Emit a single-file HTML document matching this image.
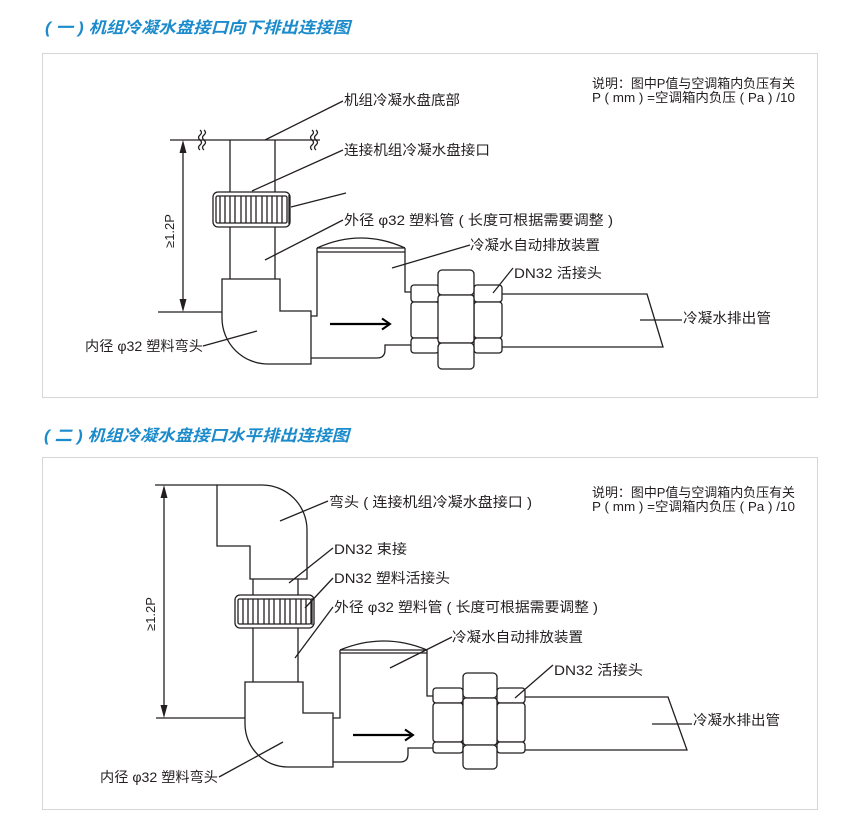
<!DOCTYPE html>
<html><head><meta charset="utf-8"><style>
html,body{margin:0;padding:0;background:#fff;}
svg{display:block;}
text{font-family:"Liberation Sans","Noto Sans CJK SC",sans-serif;fill:#231f20;}
.t{font-size:16px;font-weight:bold;font-style:italic;fill:#1b8bcb;}
.l{font-size:14px;}
.n{font-size:13px;}
.s{stroke:#231f20;stroke-width:1.3;fill:none;}
.w{stroke:#231f20;stroke-width:1.3;fill:#fff;}
</style></head><body>
<svg width="853" height="837" viewBox="0 0 853 837" xmlns="http://www.w3.org/2000/svg">
<rect x="0" y="0" width="853" height="837" fill="#fff"/>

<!-- Titles -->
<text class="t" x="45" y="33" textLength="305" lengthAdjust="spacingAndGlyphs">( 一 ) 机组冷凝水盘接口向下排出连接图</text>
<text class="t" x="44" y="441" textLength="305" lengthAdjust="spacingAndGlyphs">( 二 ) 机组冷凝水盘接口水平排出连接图</text>

<!-- Panels -->
<rect x="42.5" y="53.5" width="775" height="344" fill="none" stroke="#d6d6d6" stroke-width="1"/>
<rect x="42.5" y="457.5" width="775" height="352" fill="none" stroke="#d6d6d6" stroke-width="1"/>

<!-- ================= TOP DIAGRAM ================= -->
<text class="n" x="592" y="88" textLength="203" lengthAdjust="spacingAndGlyphs">说明：图中P值与空调箱内负压有关</text>
<text class="n" x="592" y="102" textLength="203" lengthAdjust="spacingAndGlyphs">P ( mm ) =空调箱内负压 ( Pa ) /10</text>

<!-- top line w/ break marks -->
<path class="s" d="M170 140 H320"/>
<path class="s" stroke-width="1.1" d="M200 130 q3 2.5 0 5 q-3 2.5 0 5 q3 2.5 0 5 q-3 2.5 0 5 M204 130 q3 2.5 0 5 q-3 2.5 0 5 q3 2.5 0 5 q-3 2.5 0 5"/>
<path class="s" stroke-width="1.1" d="M312 130 q3 2.5 0 5 q-3 2.5 0 5 q3 2.5 0 5 q-3 2.5 0 5 M316 130 q3 2.5 0 5 q-3 2.5 0 5 q3 2.5 0 5 q-3 2.5 0 5"/>

<!-- pipe -->
<path class="s" d="M230 140 V279 M275 140 V279"/>

<!-- knurled nut -->
<rect class="w" x="213" y="192" width="77" height="35" rx="5"/>
<rect class="s" x="216" y="196" width="71" height="27" rx="1.5"/>
<path class="s" d="M289 195 V224"/>
<path class="s" stroke-width="0.8" d="M220 196V223M225 196V223M230 196V223M235 196V223M241 196V223M246 196V223M251 196V223M256 196V223M262 196V223M267 196V223M272 196V223M277 196V223M282 196V223"/>

<!-- dimension -->
<path class="s" d="M183 150 V302"/>
<path d="M183 140 L179.5 153 L186.5 153 Z M183 312 L179.5 299 L186.5 299 Z" fill="#231f20"/>
<path class="s" d="M158 312 H222"/>
<text class="n" transform="translate(174 231) rotate(-90)" text-anchor="middle">≥1.2P</text>

<!-- elbow -->
<path class="w" d="M222 279 H280 V311 H311 V364 H268 A46 46 0 0 1 222 318 Z"/>

<!-- trap -->
<path class="s" d="M311 316 H317 V248"/>
<path class="s" d="M317 248 Q361 228 405 248"/>
<path class="s" d="M317 248 H405 M317 252 H405"/>
<path class="s" d="M405 248 V292 H411"/>
<path class="s" d="M311 358 H377 Q385 358 385 350 V345 H411"/>
<path d="M330 324 H389" stroke="#000" stroke-width="2.2" fill="none"/>
<path d="M382 318.5 L390 324 L382 329.5" stroke="#000" stroke-width="2" fill="none"/>

<!-- union nuts -->
<g class="w">
<rect x="411" y="285" width="28" height="17" rx="3"/>
<rect x="411" y="302" width="28" height="36" rx="3"/>
<rect x="411" y="338" width="28" height="15" rx="3"/>
<rect x="474" y="285" width="28" height="17" rx="3"/>
<rect x="474" y="302" width="28" height="36" rx="3"/>
<rect x="474" y="338" width="28" height="15" rx="3"/>
<rect x="438" y="270" width="36" height="25" rx="4"/>
<rect x="438" y="295" width="36" height="48" rx="3"/>
<rect x="438" y="343" width="36" height="26" rx="4"/>
</g>
<path class="s" d="M502 294 H647 L663 347 H502"/>

<!-- top leaders -->
<path class="s" stroke-width="1" d="M265 140 L343 101"/>
<path class="s" stroke-width="1" d="M252 191 L343 150"/>
<path class="s" stroke-width="1" d="M291 207 L346 193"/>
<path class="s" stroke-width="1" d="M265 260 L343 220"/>
<path class="s" stroke-width="1" d="M392 268 L470 245"/>
<path class="s" stroke-width="1" d="M493 293 L513 268"/>
<path class="s" stroke-width="1" d="M640 320 H682"/>
<path class="s" stroke-width="1" d="M203 346 L257 331"/>

<!-- top labels -->
<text class="l" x="344" y="105" textLength="116" lengthAdjust="spacingAndGlyphs">机组冷凝水盘底部</text>
<text class="l" x="344" y="155" textLength="146" lengthAdjust="spacingAndGlyphs">连接机组冷凝水盘接口</text>
<text class="l" x="344" y="225" textLength="269" lengthAdjust="spacingAndGlyphs">外径 φ32 塑料管 ( 长度可根据需要调整 )</text>
<text class="l" x="470" y="250" textLength="130" lengthAdjust="spacingAndGlyphs">冷凝水自动排放装置</text>
<text class="l" x="514" y="278" textLength="88" lengthAdjust="spacingAndGlyphs">DN32 活接头</text>
<text class="l" x="683" y="323" textLength="88" lengthAdjust="spacingAndGlyphs">冷凝水排出管</text>
<text class="l" x="85" y="351" textLength="118" lengthAdjust="spacingAndGlyphs">内径 φ32 塑料弯头</text>

<!-- ================= BOTTOM DIAGRAM ================= -->
<text class="n" x="592" y="497" textLength="203" lengthAdjust="spacingAndGlyphs">说明：图中P值与空调箱内负压有关</text>
<text class="n" x="592" y="511" textLength="203" lengthAdjust="spacingAndGlyphs">P ( mm ) =空调箱内负压 ( Pa ) /10</text>

<!-- dimension -->
<path class="s" d="M155 485 H217"/>
<path class="s" d="M164 495 V708"/>
<path d="M164 485 L160.5 498 L167.5 498 Z M164 718 L160.5 705 L167.5 705 Z" fill="#231f20"/>
<path class="s" d="M156 718 H245"/>
<text class="n" transform="translate(155 614) rotate(-90)" text-anchor="middle">≥1.2P</text>

<!-- upper elbow -->
<path class="w" d="M217 485 H262 A45 45 0 0 1 307 530 V579 H250 V546 H217 Z"/>
<path class="s" d="M253 579 V682 M298 579 V682"/>
<!-- knurled nut -->
<rect class="w" x="235" y="595" width="79" height="33" rx="5"/>
<rect class="s" x="238" y="599" width="73" height="25" rx="1.5"/>
<path class="s" d="M312 598 V625"/>
<path class="s" stroke-width="0.8" d="M243 599V624M248 599V624M253 599V624M258 599V624M264 599V624M269 599V624M274 599V624M280 599V624M285 599V624M290 599V624M296 599V624M301 599V624M306 599V624"/>

<!-- lower elbow -->
<path class="w" d="M245 682 H303 V713 H333 V767 H288 A43 43 0 0 1 245 724 Z"/>

<!-- trap -->
<path class="s" d="M333 718 H340 V650"/>
<path class="s" d="M340 650 Q384 632 427 650"/>
<path class="s" d="M340 650 H427 M340 653 H427"/>
<path class="s" d="M427 650 V696 H433"/>
<path class="s" d="M333 762 H400 Q408 762 408 754 V748 H433"/>
<path d="M353 735 H412" stroke="#000" stroke-width="2.2" fill="none"/>
<path d="M405 729.5 L413 735 L405 740.5" stroke="#000" stroke-width="2" fill="none"/>

<!-- union nuts -->
<g class="w">
<rect x="433" y="688" width="30" height="15" rx="3"/>
<rect x="433" y="703" width="30" height="39" rx="3"/>
<rect x="433" y="742" width="30" height="11" rx="3"/>
<rect x="497" y="688" width="28" height="15" rx="3"/>
<rect x="497" y="703" width="28" height="39" rx="3"/>
<rect x="497" y="742" width="28" height="11" rx="3"/>
<rect x="463" y="673" width="34" height="25" rx="4"/>
<rect x="463" y="698" width="34" height="47" rx="3"/>
<rect x="463" y="745" width="34" height="24" rx="4"/>
</g>
<path class="s" d="M525 697 H668 L687 750 H525"/>

<!-- bottom leaders -->
<path class="s" stroke-width="1" d="M280 521 L328 501"/>
<path class="s" stroke-width="1" d="M289 583 L333 548"/>
<path class="s" stroke-width="1" d="M305 608 L333 578"/>
<path class="s" stroke-width="1" d="M295 658 L333 607"/>
<path class="s" stroke-width="1" d="M390 668 L452 637"/>
<path class="s" stroke-width="1" d="M515 698 L553 665"/>
<path class="s" stroke-width="1" d="M652 724 H692"/>
<path class="s" stroke-width="1" d="M219 777 L283 742"/>

<!-- bottom labels -->
<text class="l" x="329" y="507" textLength="203" lengthAdjust="spacingAndGlyphs">弯头 ( 连接机组冷凝水盘接口 )</text>
<text class="l" x="334" y="554" textLength="73" lengthAdjust="spacingAndGlyphs">DN32 束接</text>
<text class="l" x="334" y="583" textLength="116" lengthAdjust="spacingAndGlyphs">DN32 塑料活接头</text>
<text class="l" x="334" y="612" textLength="264" lengthAdjust="spacingAndGlyphs">外径 φ32 塑料管 ( 长度可根据需要调整 )</text>
<text class="l" x="452" y="642" textLength="131" lengthAdjust="spacingAndGlyphs">冷凝水自动排放装置</text>
<text class="l" x="554" y="675" textLength="89" lengthAdjust="spacingAndGlyphs">DN32 活接头</text>
<text class="l" x="693" y="725" textLength="87" lengthAdjust="spacingAndGlyphs">冷凝水排出管</text>
<text class="l" x="100" y="782" textLength="118" lengthAdjust="spacingAndGlyphs">内径 φ32 塑料弯头</text>
</svg>
</body></html>
